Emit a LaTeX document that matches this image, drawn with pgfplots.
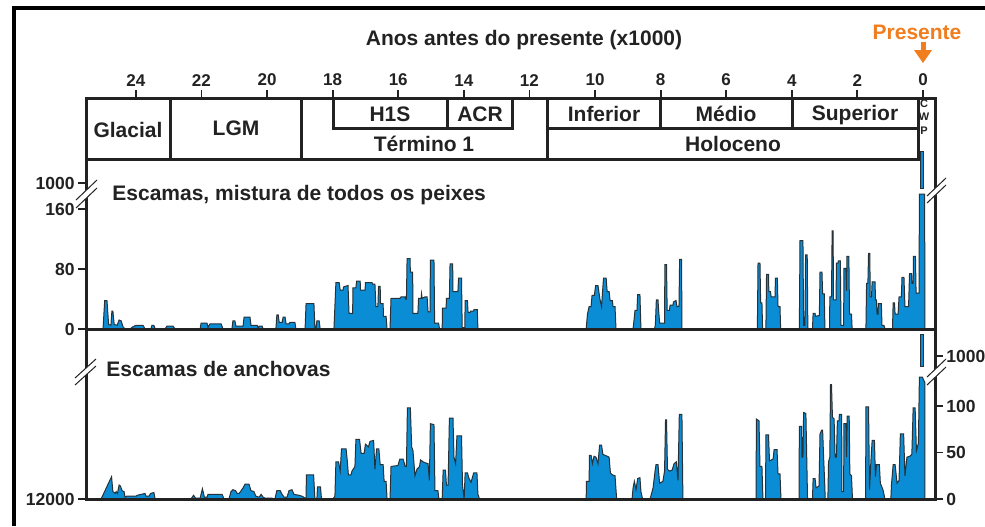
\documentclass[border=0pt]{standalone}
\usepackage{pgfplots}
\pgfplotsset{compat=1.18}
\usepackage{fontspec}
\setmainfont{Liberation Sans}
\definecolor{fillblue}{HTML}{0A8DD5}
\definecolor{edge}{HTML}{263238}
\definecolor{orng}{HTML}{F07D1E}
\definecolor{ink}{HTML}{222222}
\begin{document}
\begin{tikzpicture}
\path[use as bounding box, fill=white] (0pt,0pt) rectangle (492.5pt,-263pt);
\pgfplotsset{
  panel/.style={scale only axis, width=424.5pt, xmin=-0.366, xmax=25.52, x dir=reverse,
    axis line style={draw=none}, tick align=outside, major tick length=4pt,
    every tick/.style={ink, line width=0.9pt}, clip=false},
  ylab/.style={yticklabel style={font=\bfseries\fontsize{8.75}{10}\selectfont, inner sep=1.5pt, text=ink}},
  ser/.style={fill=fillblue, draw=edge, line width=0.5pt}
}
% header axis
\begin{axis}[panel, at={(43pt,-49pt)}, anchor=north west, height=30.5pt,
  ymin=0, ymax=1, axis x line*=top, axis y line=none,
  xtick={0,2,...,24}, xticklabels={0,2,4,6,8,10,12,14,16,18,20,22,24},
  xticklabel style={font=\bfseries\fontsize{8.5}{9.5}\selectfont, inner sep=1pt, text=ink, yshift=0.8pt}]
\end{axis}
% top panel
\begin{axis}[panel, ylab, at={(43pt,-79.5pt)}, anchor=north west, height=85pt,
  ymin=0, ymax=226.7, axis y line*=left, axis x line=none,
  ytick={0,80,160,194.7}, yticklabels={0,80,160,1000}]
\addplot[ser] coordinates {
(25.00,0)(24.95,38)(24.88,38)(24.83,6)(24.76,5)(24.73,24)(24.70,24)(24.66,6)(24.57,5)(24.51,12)(24.45,11)(24.39,3)(24.33,0)
(24.18,0)(24.09,3)(23.99,5)(23.78,5)(23.72,0)
(23.54,0)(23.51,5)(23.45,5)(23.41,0)
(23.11,0)(23.05,4)(22.87,4)(22.80,0)
(22.04,0)(22.01,8)(21.83,8)(21.80,2)(21.74,7)(21.40,7)(21.34,0)
(21.07,0)(21.04,11)(20.98,11)(20.95,4)(20.73,4)(20.70,16)(20.52,16)(20.49,5)(20.30,5)(20.27,1)(20.24,4)(20.15,4)(20.12,0)
(19.73,0)(19.70,19)(19.66,19)(19.63,9)(19.54,9)(19.51,16)(19.45,16)(19.42,7)(19.33,7)(19.30,9)(19.15,9)(19.12,0)
(18.84,0)(18.81,34)(18.57,34)(18.54,0)(18.51,0)(18.48,11)(18.41,11)(18.38,0)
(17.96,0)(17.90,62)(17.80,62)(17.77,52)(17.68,52)(17.67,56)(17.53,58)(17.50,21)(17.39,21)(17.38,55)(17.29,55)(17.27,64)(17.16,64)(17.15,52)(17.01,52)(17.00,62)(16.80,62)(16.78,60)(16.71,60)(16.68,30)(16.62,30)(16.60,57)(16.55,57)(16.54,34)(16.46,34)(16.45,17)(16.37,17)(16.34,0)
(16.25,0)(16.22,41)(15.95,41)(15.91,43)(15.79,43)(15.78,40)(15.75,40)(15.73,94)(15.64,94)(15.63,76)(15.56,76)(15.55,21)(15.40,21)(15.38,41)(15.30,41)(15.29,47)(15.27,41)(15.18,43)(15.12,43)(15.09,23)(15.03,23)(15.02,92)(14.91,92)(14.89,8)(14.77,8)(14.74,0)
(14.66,0)(14.65,28)(14.54,28)(14.53,41)(14.44,41)(14.42,87)(14.34,87)(14.33,50)(14.18,50)(14.16,68)(14.07,68)(14.05,2)(13.99,2)(13.98,0)
(13.97,0)(13.96,38)(13.89,38)(13.87,22)(13.81,22)(13.80,24)(13.70,24)(13.69,26)(13.59,26)(13.57,0)
(10.27,0)(10.23,20)(10.18,30)(10.12,30)(10.09,45)(10.02,45)(9.98,58)(9.91,58)(9.85,40)(9.80,30)(9.77,50)(9.74,68)(9.66,68)(9.63,50)(9.57,50)(9.54,38)(9.47,38)(9.45,30)(9.39,30)(9.36,0)
(8.84,0)(8.81,12)(8.78,25)(8.72,25)(8.70,46)(8.63,46)(8.60,0)
(8.19,0)(8.16,5)(8.13,39)(8.08,39)(8.06,25)(8.03,8)(7.88,8)(7.87,86)(7.82,86)(7.80,25)(7.73,25)(7.71,32)(7.62,32)(7.61,36)(7.53,38)(7.50,30)(7.44,30)(7.42,93)(7.36,93)(7.35,0)
(5.05,0)(5.03,88)(4.97,88)(4.95,35)(4.91,35)(4.89,0)
(4.79,0)(4.77,73)(4.71,73)(4.70,50)(4.65,50)(4.63,43)(4.51,43)(4.50,68)(4.44,68)(4.42,30)(4.36,30)(4.34,0)
(3.77,0)(3.75,118)(3.66,118)(3.64,5)(3.60,5)(3.58,99)(3.53,99)(3.51,0)
(3.37,0)(3.35,21)(3.29,21)(3.28,17)(3.16,18)(3.14,76)(3.08,76)(3.06,47)(3.01,47)(2.99,0)
(2.85,0)(2.84,43)(2.79,43)(2.77,131)(2.74,131)(2.73,39)(2.65,39)(2.64,88)(2.59,88)(2.58,91)(2.52,91)(2.50,5)(2.42,5)(2.41,81)(2.35,81)(2.33,51)(2.32,97)(2.26,97)(2.24,20)(2.18,20)(2.16,0)
(1.74,0)(1.72,61)(1.68,61)(1.66,101)(1.62,101)(1.61,43)(1.57,43)(1.55,63)(1.46,63)(1.45,39)(1.42,39)(1.40,20)(1.37,20)(1.36,34)(1.27,34)(1.25,5)(1.19,5)(1.16,0)
(0.93,0)(0.91,35)(0.87,35)(0.85,20)(0.76,20)(0.73,43)(0.66,43)(0.64,69)(0.58,69)(0.55,30)(0.44,30)(0.41,74)(0.35,74)(0.34,61)(0.30,61)(0.29,97)(0.23,97)(0.21,48)(0.12,48)(0.11,180)(-0.05,180)(-0.06,0)
};
\addplot[ser] coordinates {(0.08,187)(0.08,237)(-0.03,237)(-0.03,187)(0.08,187)};
\end{axis}
% bottom panel, left axis
\begin{axis}[panel, ylab, at={(43pt,-164.5pt)}, anchor=north west, height=85pt,
  ymin=0, ymax=182.8, axis y line*=left, axis x line=none,
  ytick={0}, yticklabels={12000}]
\end{axis}
% bottom panel, right axis with data
\begin{axis}[panel, ylab, at={(43pt,-164.5pt)}, anchor=north west, height=85pt,
  ymin=0, ymax=182.8, axis y line*=right, axis x line=none,
  ytick={0,50,100,153.8}, yticklabels={0,50,100,1000}]
\addplot[ser] coordinates {
(25.06,0)(24.74,24)(24.70,8)(24.63,6)(24.60,8)(24.56,6)(24.51,15)(24.47,14)(24.42,9)(24.36,8)(24.33,2)(24.28,3)(23.99,3)(23.96,4)(23.72,6)(23.69,3)(23.60,3)(23.55,6)(23.45,7)(23.41,0)
(22.32,0)(22.24,4)(22.18,1)(22.04,1)(21.97,11)(21.91,2)(21.83,2)(21.80,5)(21.37,5)(21.31,0)
(21.16,0)(21.10,8)(21.04,10)(20.96,9)(20.91,6)(20.85,6)(20.73,12)(20.67,16)(20.55,16)(20.49,9)(20.40,8)(20.34,3)(20.24,2)(20.18,5)(20.12,2)(20.06,1)(19.85,1)(19.79,0)
(19.76,0)(19.70,9)(19.60,9)(19.54,5)(19.48,2)(19.39,2)(19.33,9)(19.24,10)(19.18,5)(19.02,4)(18.93,3)(18.84,1)(18.81,0)
(18.80,26)(18.58,26)(18.54,0)(18.48,0)(18.46,13)(18.37,13)(18.34,0)
(17.99,0)(17.93,3)(17.90,40)(17.82,40)(17.77,30)(17.73,54)(17.59,54)(17.55,40)(17.52,26)(17.44,26)(17.41,30)(17.32,35)(17.29,64)(17.18,64)(17.13,49)(17.04,49)(17.00,59)(16.91,56)(16.86,62)(16.75,63)(16.71,32)(16.66,54)(16.59,54)(16.55,37)(16.46,37)(16.43,19)(16.37,19)(16.34,0)
(16.25,0)(16.22,35)(16.01,36)(15.95,43)(15.85,43)(15.79,35)(15.75,35)(15.72,98)(15.63,98)(15.59,56)(15.55,52)(15.49,25)(15.43,32)(15.35,35)(15.32,42)(15.24,40)(15.18,39)(15.09,38)(15.05,20)(15.02,81)(14.91,80)(14.88,9)(14.79,9)(14.76,0)
(14.66,0)(14.63,31)(14.56,31)(14.53,15)(14.48,15)(14.44,87)(14.33,87)(14.30,45)(14.25,38)(14.21,68)(14.07,68)(14.04,15)(13.99,0)
(13.96,28)(13.89,28)(13.84,22)(13.78,18)(13.70,28)(13.60,28)(13.57,5)(13.52,0)
(10.27,0)(10.26,19)(10.18,19)(10.17,47)(10.12,47)(10.08,38)(10.03,46)(9.97,45)(9.91,38)(9.86,58)(9.80,58)(9.76,48)(9.63,46)(9.57,45)(9.53,28)(9.47,26)(9.39,25)(9.34,0)
(8.87,0)(8.84,12)(8.80,19)(8.75,10)(8.70,22)(8.63,23)(8.60,8)(8.55,0)
(8.32,0)(8.23,12)(8.17,30)(8.14,37)(8.08,37)(8.03,17)(7.93,19)(7.88,30)(7.85,85)(7.82,85)(7.79,32)(7.73,30)(7.65,31)(7.59,38)(7.52,40)(7.47,20)(7.43,91)(7.35,91)(7.32,0)
(5.09,0)(5.08,86)(5.00,84)(4.97,35)(4.91,35)(4.88,0)
(4.80,0)(4.79,69)(4.71,69)(4.68,41)(4.57,43)(4.54,53)(4.45,53)(4.42,27)(4.36,27)(4.33,0)
(3.78,0)(3.77,78)(3.70,78)(3.69,45)(3.66,45)(3.64,93)(3.57,92)(3.52,0)
(3.37,0)(3.35,22)(3.29,22)(3.26,12)(3.17,14)(3.14,70)(3.09,74)(3.06,74)(3.03,45)(3.00,20)(2.98,0)
(2.90,0)(2.88,40)(2.84,45)(2.82,123)(2.79,123)(2.76,88)(2.71,86)(2.68,45)(2.64,45)(2.61,84)(2.56,84)(2.55,91)(2.48,91)(2.47,8)(2.42,8)(2.41,81)(2.35,81)(2.33,45)(2.31,89)(2.25,89)(2.23,27)(2.18,25)(2.15,0)
(1.75,0)(1.74,99)(1.66,99)(1.63,10)(1.59,40)(1.55,63)(1.48,63)(1.45,24)(1.42,37)(1.33,37)(1.30,17)(1.22,10)(1.16,0)
(0.98,0)(0.96,16)(0.91,37)(0.85,37)(0.79,17)(0.73,20)(0.69,70)(0.59,70)(0.55,25)(0.49,45)(0.40,46)(0.34,48)(0.30,98)(0.24,98)(0.20,52)(0.14,60)(0.11,131)(0.02,131)(-0.06,125)(-0.06,0)
};
\addplot[ser] coordinates {(0.08,142)(0.08,177)(-0.03,177)(-0.03,142)(0.08,142)};
\end{axis}
% decorations in pixel units
\begin{scope}[x=0.5pt,y=-0.5pt]
\draw[line width=2pt, black] (14,526)--(14,8)--(985,8);
\begin{scope}[line width=1.5pt, draw=ink, line cap=rect]
\draw (86,98)--(935,98);
\draw (86,98)--(86,499);
\draw (935,98)--(935,499);
\draw (86,159)--(918,159);
\draw (86,329)--(935,329);
\draw (86,499)--(935,499);
\draw (170,98)--(170,159);
\draw (301,98)--(301,159);
\draw (547,98)--(547,159);
\draw (918,98)--(918,159);
\draw (333,98)--(333,128)--(512,128)--(512,98);
\draw (447,98)--(447,128);
\draw (547,128)--(918,128);
\draw (660,98)--(660,128);
\draw (792,98)--(792,128);
\end{scope}
% axis breaks
\foreach \xa/\ya/\xb/\yb/\d in {76/200/97/180/8, 927/196/946/178/7, 75/378/96/359/7, 927/377/946/359/8}{
  \fill[white] (\xa,\ya)--(\xb,\yb)--(\xb,\yb+\d)--(\xa,\ya+\d)--cycle;
  \draw[ink, line width=0.5pt] (\xa,\ya)--(\xb,\yb);
  \draw[ink, line width=0.5pt] (\xa,\ya+\d)--(\xb,\yb+\d);
}
\tikzset{lab/.style={font=\bfseries\fontsize{10.5}{12}\selectfont, inner sep=0pt, text height=7.5pt, text depth=0pt, text=ink}}
\node[lab] at (524,38) {Anos antes do presente (x1000)};
\node[lab, text=orng] at (917,32) {Presente};
\fill[orng] (920.5,42) rectangle (925.5,50);
\fill[orng] (914,50)--(932,50)--(923,63)--cycle;
\node[lab] at (128,130) {Glacial};
\node[lab] at (236,128) {LGM};
\node[lab] at (390,114) {H1S};
\node[lab] at (480,114) {ACR};
\node[lab] at (424,144) {Término 1};
\node[lab] at (604,114) {Inferior};
\node[lab] at (726,114) {Médio};
\node[lab] at (855,113) {Superior};
\node[lab] at (733,144) {Holoceno};
\node[lab, anchor=west] at (112,193) {Escamas, mistura de todos os peixes};
\node[lab, anchor=west] at (106,369) {Escamas de anchovas};
\tikzset{cwp/.style={font=\bfseries\fontsize{5.5}{6}\selectfont, inner sep=0pt, text=ink}}
\node[cwp] at (924,104) {C};
\node[cwp] at (924,117) {W};
\node[cwp] at (924,131) {P};
\end{scope}
\end{tikzpicture}
\end{document}
